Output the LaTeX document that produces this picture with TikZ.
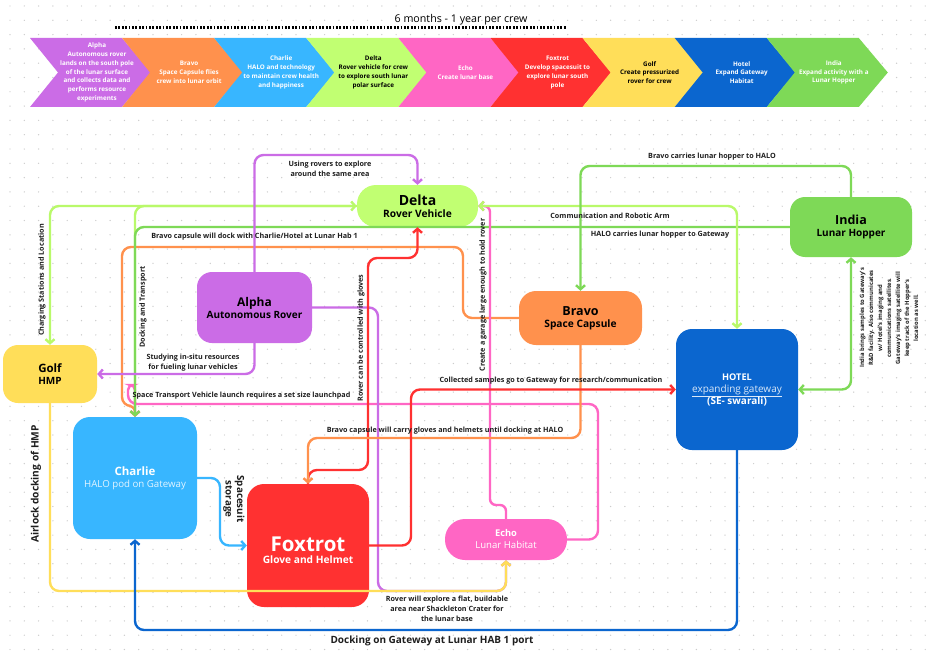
\documentclass[tikz,border=0pt]{standalone}
\usepackage{fontspec}
\setmainfont{Open Sans}
\usetikzlibrary{arrows.meta}
\definecolor{cpurple}{HTML}{CB6CE6}
\definecolor{corange}{HTML}{FF914D}
\definecolor{cblue}{HTML}{38B6FF}
\definecolor{clime}{HTML}{C1FF72}
\definecolor{climeline}{HTML}{B9F96A}
\definecolor{cpink}{HTML}{FF66C4}
\definecolor{cred}{HTML}{FF3131}
\definecolor{cyellow}{HTML}{FFDE59}
\definecolor{cnavy}{HTML}{0B66CF}
\definecolor{cgreen}{HTML}{7ED957}
\definecolor{ink}{HTML}{1E1E1E}
\newcommand{\myfs}[2]{\fontsize{#1}{#2}\selectfont}
\tikzset{
  conn/.style={line width=2.4pt, rounded corners=9pt},
  tipend/.style={-{Straight Barb[length=4pt,width=9pt]}},
  tipboth/.style={{Straight Barb[length=4pt,width=9pt]}-{Straight Barb[length=4pt,width=9pt]}},
  lbl/.style={font=\bfseries\myfs{7.2}{9.8}, text=ink, align=center, inner sep=0pt},
  box/.style={align=center, inner sep=0pt, font=\bfseries},
  chtext/.style={font=\bfseries\myfs{6.3}{8.8}, align=center, inner sep=0pt},
}
\begin{document}
\begin{tikzpicture}[x=1pt,y=-1pt]
\useasboundingbox (0,0) rectangle (928,658);
\fill[white] (0,0) rectangle (928,658);
\foreach \y in {6,20.3,...,658} {\draw[black!20, line width=1.4pt, line cap=round, dash pattern=on 0pt off 14.3pt] (10,\y) -- (928,\y);}

% ---------- banner ----------
\draw[line width=2.3pt, dash pattern=on 1.8pt off 1.6pt] (115,27.5) -- (566,27.5);
\node[font=\myfs{10.7}{12}, inner sep=0pt] (period) at (461,20) {6 months - 1 year per crew};

\foreach \L/\col/\tc/\txt [count=\i] in {
  30/cpurple/white/{Alpha\\Autonomous rover\\lands on the south pole\\of the lunar surface\\and collects data and\\performs resource\\experiments},
  122.1/corange/white/{Bravo\\Space Capsule flies\\crew into lunar orbit},
  214.2/cblue/white/{Charlie\\HALO and technology\\to maintain crew health\\and happiness},
  306.3/clime/black/{Delta\\Rover vehicle for crew\\to explore south lunar\\polar surface},
  398.4/cpink/white/{Echo\\Create lunar base},
  490.5/cred/white/{Foxtrot\\Develop spacesuit to\\explore lunar south\\pole},
  582.6/cyellow/black/{Golf\\Create pressurized\\rover for crew},
  674.7/cnavy/white/{Hotel\\Expand Gateway\\Habitat},
  766.8/cgreen/white/{India\\Expand activity with a\\Lunar Hopper}}
{
  \fill[\col] (\L,38) -- ++(92,0) -- ++(29,34.5) -- ++(-29,34.5) -- ++(-92,0) -- ++(28,-34.5) -- cycle;
  \node[chtext, text=\tc] (ch\i) at (\L+67,72.5) {\txt};
}

% ---------- main nodes ----------
\node[box, fill=clime, minimum width=121pt, minimum height=42pt, rounded corners=19pt] (delta) at (417.5,206)
  {\myfs{14}{15}Delta\\\myfs{10.2}{16}Rover Vehicle};
\node[box, fill=cgreen, minimum width=122pt, minimum height=60pt, rounded corners=15pt] (india) at (851,227)
  {\myfs{12.5}{15}India\\\myfs{10}{16}Lunar Hopper};
\node[box, fill=cpurple, minimum width=115pt, minimum height=71pt, rounded corners=15pt] (alpha) at (254.5,307.5)
  {\myfs{12}{15.3}Alpha\\Autonomous Rover};
\node[box, fill=corange, minimum width=123pt, minimum height=54pt, rounded corners=17pt] (bravo) at (580.5,318)
  {\myfs{12.5}{15}Bravo\\\myfs{10.2}{15.3}Space Capsule};
\node[box, fill=cyellow, minimum width=94pt, minimum height=58pt, rounded corners=15pt] (golf) at (50,374)
  {\myfs{11.5}{16}Golf\\HMP};
\node[box, fill=cnavy, text=white, minimum width=122pt, minimum height=121pt, rounded corners=16pt] (hotel) at (737,389.5)
  {\myfs{9.2}{13}HOTEL\\{\mdseries\color{white!85!cnavy}\underline{expanding gateway}}\\(SE- swarali)};
\node[box, fill=cblue, text=white, minimum width=124pt, minimum height=122pt, rounded corners=17pt] (charlie) at (135,478)
  {\myfs{11.5}{15}Charlie\\{\mdseries\color{white!85!cblue}\myfs{9.7}{15}HALO pod on Gateway}};
\node[box, fill=cred, minimum width=122pt, minimum height=123pt, rounded corners=17pt] (foxtrot) at (308,545.5) {};
\node[box, text=white] (foxtrottext) at (308,550.5)
  {\myfs{20.5}{22}Foxtrot\\\myfs{10.2}{21}Glove and Helmet};
\node[box, fill=cpink, text=white, minimum width=122pt, minimum height=41pt, rounded corners=20pt] (echo) at (506,539.5)
  {\myfs{9.3}{13}Echo\\\mdseries\myfs{9.6}{13}Lunar Habitat};

% ---------- connectors ----------
\draw[conn, climeline, tipend] (delta.west) -| (charlie.north);
\draw[conn, corange, tipend] (bravo.west) -- (463,318) -- (463,247) -- (122,247) -- (122,406) [rounded corners=6pt] -- (135,406) -- (charlie.north);
\draw[conn, cpink, tipend] (echo.east) -- (598,539.5) -- (598,404) -- (128,404) [rounded corners=5pt] -- (128,385) -- (135,385) -- (charlie.north);
\draw[conn, cgreen, tipend] (india.west) -| (charlie.north);
\draw[conn, climeline, tipboth] (golf.north) |- (delta.west);
\draw[conn, cpurple, tipend] (alpha.north) |- (417.5,155) -- (delta.north);
\draw[conn, cpink, tipend, rounded corners=6pt] (echo.north) -- (506,505) -- (490,505) -- (490,206) -- (delta.east);
\draw[conn, climeline, tipboth] (delta.east) -| (hotel.north);
\draw[conn, cgreen, tipend] (india.north) |- (580.5,166) -- (bravo.north);
\draw[conn, cgreen, tipboth] (india.south) |- (hotel.east);
\draw[conn, cpurple, tipend] (alpha.south) |- (golf.east);
\draw[conn, cpurple, tipend] (alpha.east) -| (378,591) -- (506,591) -- (echo.south);
\draw[conn, cyellow, tipend] (golf.south) |- (506,591) -- (echo.south);
\draw[conn, cblue, tipend] (charlie.east) -- (220,478) |- (foxtrot.west);
\draw[conn, cred, tipend] (foxtrot.north) -- (308,470) -- (368,470) -- (368,258) -- (417.5,258) -- (delta.south);
\draw[conn, corange, tipend] (bravo.south) |- (308,438) -- (foxtrot.north);
\draw[conn, cred, tipend] (foxtrot.east) -| (411,389.5) -- (hotel.west);
\draw[conn, cnavy, tipend] (hotel.south) |- (135,630) -- (charlie.south);

% ---------- labels ----------
\node[lbl] (l1) at (330,169) {Using rovers to explore\\around the same area};
\node[lbl, rotate=90] (l2) at (42,280) {Charging Stations and Location};
\node[lbl, rotate=90] (l3) at (143,307) {Docking and Transport};
\node[lbl] (l4) at (254.5,237) {Bravo capsule will dock with Charlie/Hotel at Lunar Hab 1};
\node[lbl] (l5) at (712,157) {Bravo carries lunar hopper to HALO};
\node[lbl] (l6) at (610,216) {Communication and Robotic Arm};
\node[lbl] (l7) at (660,235) {HALO carries lunar hopper to Gateway};
\node[lbl, rotate=90] (l8) at (483,295) {Create a garage large enough to hold rover};
\node[lbl, rotate=90] (l9) at (361,338) {Rover can be controlled with gloves};
\node[lbl] (l10) at (193,363) {Studying in-situ resources\\for fueling lunar vehicles};
\node[lbl] (l11) at (241.5,396) {Space Transport Vehicle launch requires a set size launchpad};
\node[lbl] (l12) at (551,381) {Collected samples go to Gateway for research/communication};
\node[lbl] (l13) at (445,431) {Bravo capsule will carry gloves and helmets until docking at HALO};
\node[lbl, rotate=90, font=\bfseries\myfs{5.9}{9}] (l14) at (889,318)
  {India brings samples to Gateway's\\R\&D facility. Also communicates\\w/ Hotel's imaging and\\communications satellites.\\Gateway's imaging satellite will\\keep track of the Hopper's\\location as well.};
\node[lbl, rotate=-90, font=\bfseries\myfs{9.8}{11.5}] (l15) at (234,499) {Spacesuit\\storage};
\node[lbl, rotate=90, font=\bfseries\myfs{10.2}{11}] (l16) at (36,484) {Airlock docking of HMP};
\node[lbl] (l17) at (447,609) {Rover will explore a flat, buildable\\area near Shackleton Crater for\\the lunar base};
\node[lbl, font=\bfseries\myfs{10}{11}] (l18) at (432,641) {Docking on Gateway at Lunar HAB 1 port};
\end{tikzpicture}
\end{document}
